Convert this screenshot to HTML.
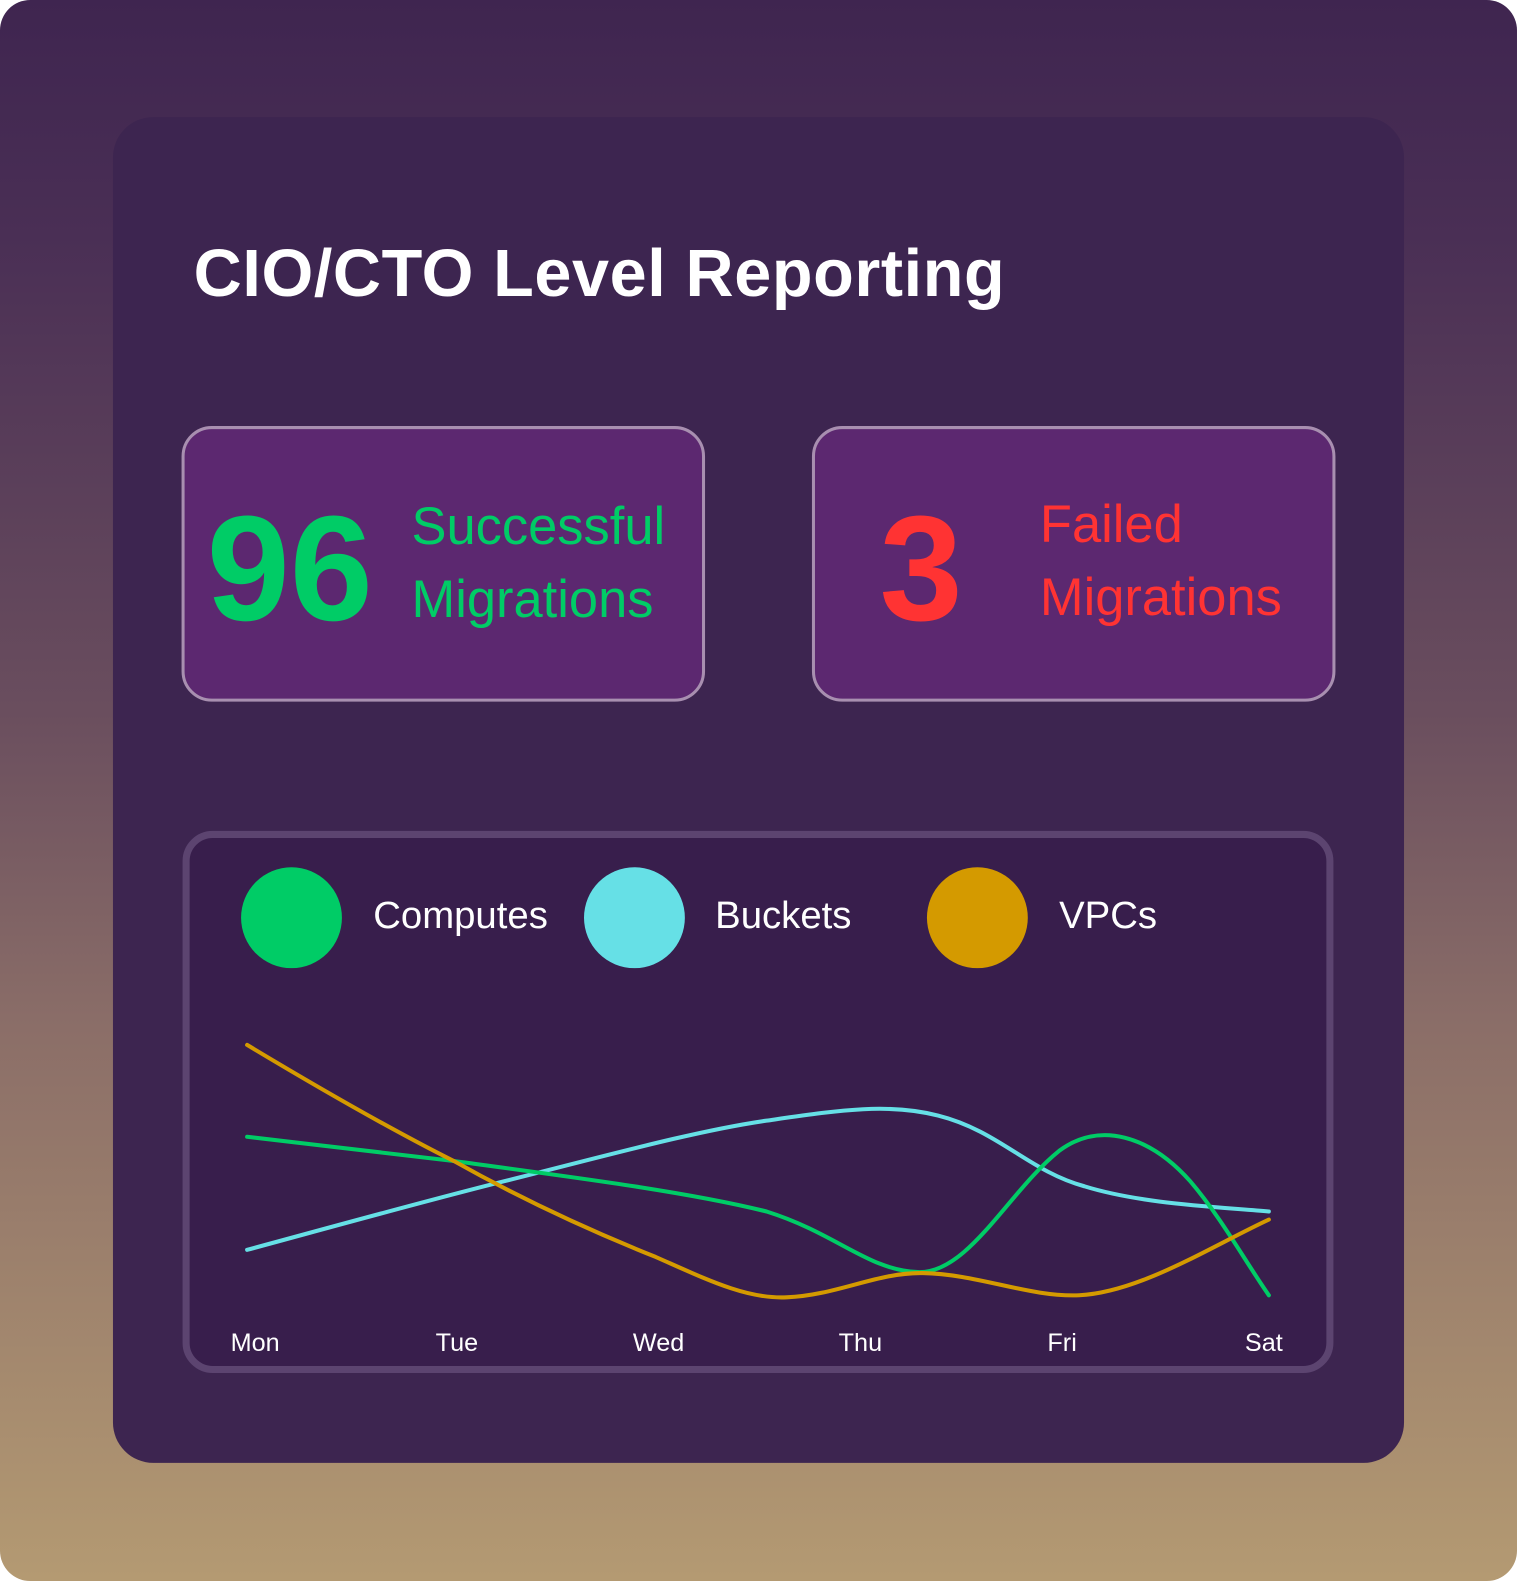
<!DOCTYPE html>
<html><head><meta charset="utf-8"><style>
html,body{margin:0;padding:0;width:1517px;height:1581px;overflow:hidden;background:#fff;}
#wrap{position:absolute;left:0;top:0;width:1504px;height:1566px;transform-origin:0 0;transform:scale(1.00864,1.00958);font-family:"Liberation Sans",sans-serif;}
#bg{position:absolute;left:0;top:0;width:1504px;height:1566px;border-radius:30px;background:linear-gradient(180deg,#3f2550 0%,#4a2f55 15%,#6a4e5e 45%,#8b6e68 65%,#b49a72 100%);}
#card{position:absolute;left:112px;top:116px;width:1280px;height:1333px;border-radius:40px;background:#3d2550;}
h1{position:absolute;left:192px;top:232px;margin:0;font-size:66px;font-weight:bold;color:#fff;letter-spacing:0.6px;}
.box{position:absolute;top:422px;width:513px;height:267px;border:3px solid #a88fb0;border-radius:30px;background:#5c2870;}
.num{position:absolute;font-weight:bold;font-size:148px;line-height:1;}
.lbl{position:absolute;font-size:52px;line-height:72px;}
#chart{position:absolute;left:181px;top:823px;width:1127px;height:523px;border:7px solid #5c4470;border-radius:30px;background:#381e4c;}
.dot{position:absolute;top:859px;width:100px;height:100px;border-radius:50%;}
.leg{position:absolute;top:886px;font-size:38px;color:#fff;}
.ax{position:absolute;top:1316px;font-size:25px;color:#fff;width:100px;text-align:center;}
</style></head><body><div id="wrap">
<div id="bg"></div>
<div id="card"></div>
<h1>CIO/CTO Level Reporting</h1>
<div class="box" style="left:180px"></div>
<div class="box" style="left:805px"></div>
<div class="num" style="left:205px;top:490px;color:#00cc66">96</div>
<div class="lbl" style="left:408px;top:486px;color:#00cc66">Successful<br>Migrations</div>
<div class="num" style="left:872px;top:490px;color:#ff3333">3</div>
<div class="lbl" style="left:1031px;top:484px;color:#ff3333">Failed<br>Migrations</div>
<div id="chart"></div>
<div class="dot" style="left:239px;background:#00cc66"></div>
<div class="leg" style="left:370px">Computes</div>
<div class="dot" style="left:579px;background:#66e0e6"></div>
<div class="leg" style="left:709px">Buckets</div>
<div class="dot" style="left:919px;background:#d49a00"></div>
<div class="leg" style="left:1050px">VPCs</div>
<svg style="position:absolute;left:0;top:0" width="1504" height="1566" fill="none" stroke-width="4" stroke-linecap="round">
<path stroke="#66e0e6" d="M245,1238 C330,1215 420,1190 500,1170 C600,1145 690,1120 760,1110 C830,1100 880,1092 930,1105 C990,1120 1020,1160 1075,1175 C1130,1192 1200,1195 1258,1200"/>
<path stroke="#00cc66" d="M245,1126 C320,1135 390,1143 450,1150 C560,1165 680,1180 760,1200 C830,1222 860,1258 910,1260 C960,1262 1000,1180 1050,1140 C1090,1110 1140,1125 1180,1170 C1210,1205 1235,1250 1258,1283"/>
<path stroke="#d49a00" d="M245,1035 C320,1080 390,1120 450,1150 C530,1195 600,1225 650,1245 C700,1267 740,1287 780,1285 C830,1283 870,1260 915,1261 C970,1262 1020,1285 1070,1283 C1130,1280 1200,1235 1258,1208"/>
</svg>
<div class="ax" style="left:203px">Mon</div>
<div class="ax" style="left:403px">Tue</div>
<div class="ax" style="left:603px">Wed</div>
<div class="ax" style="left:803px">Thu</div>
<div class="ax" style="left:1003px">Fri</div>
<div class="ax" style="left:1203px">Sat</div>
</div></body></html>
